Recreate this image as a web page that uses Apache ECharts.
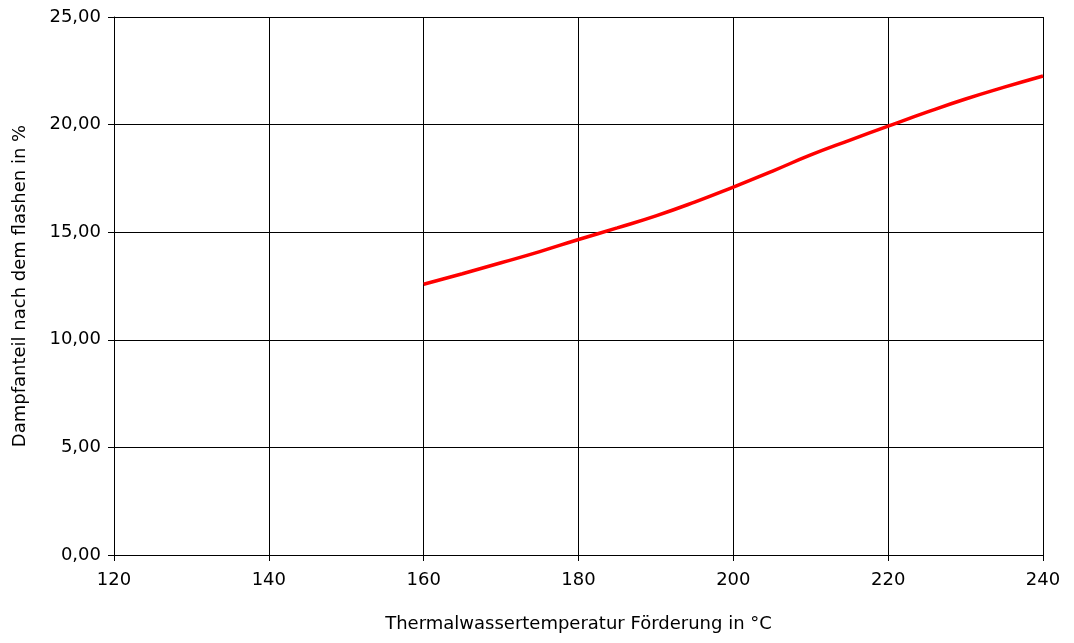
<!DOCTYPE html>
<html><head><meta charset="utf-8">
<script src="https://cdn.jsdelivr.net/npm/echarts@6/dist/echarts.min.js"></script>
<style>html,body{margin:0;padding:0;background:#fff}#c{width:1074px;height:643px}</style>
</head><body><div id="c"></div>
<script>
const temps = [160, 165, 170, 175, 180, 185, 190, 195, 200, 205, 210, 215, 220, 225, 230, 235, 240];
const steamPct = [12.58, 13.07, 13.58, 14.10, 14.66, 15.20, 15.76, 16.40, 17.10, 17.83, 18.59, 19.27, 19.93, 20.58, 21.19, 21.74, 22.26];
const xName = 'Thermalwassertemperatur Förderung in °C';
const yName = 'Dampfanteil nach dem flashen in %';
const font = 'DejaVu Sans';
const chart = echarts.init(document.getElementById('c'));
chart.setOption({
  animation: false,
  grid: {left: 114, right: 31, top: 17, bottom: 88},
  xAxis: {
    type: 'value', min: 120, max: 240, interval: 20,
    name: xName, nameLocation: 'middle', nameGap: 60,
    nameTextStyle: {color: '#000', fontSize: 18, fontFamily: font},
    axisLine: {show: true, lineStyle: {color: '#000', width: 1}},
    axisTick: {show: true, length: 6, lineStyle: {color: '#000'}},
    axisLabel: {color: '#000', fontSize: 18, fontFamily: font, margin: 16},
    splitLine: {show: true, lineStyle: {color: '#000', width: 1}}
  },
  yAxis: {
    type: 'value', min: 0, max: 25, interval: 5,
    name: yName, nameLocation: 'middle', nameGap: 85, nameRotate: 90,
    nameTextStyle: {color: '#000', fontSize: 18, fontFamily: font},
    axisLine: {show: true, lineStyle: {color: '#000', width: 1}},
    axisTick: {show: true, length: 6, lineStyle: {color: '#000'}},
    axisLabel: {color: '#000', fontSize: 18, fontFamily: font, margin: 13,
      formatter: v => v.toFixed(2).replace('.', ',')},
    splitLine: {show: true, lineStyle: {color: '#000', width: 1}}
  },
  series: [{
    type: 'line', data: temps.map((t, i) => [t, steamPct[i]]),
    smooth: true, showSymbol: false,
    lineStyle: {color: '#ff0000', width: 3.5}
  }]
});
</script></body></html>
